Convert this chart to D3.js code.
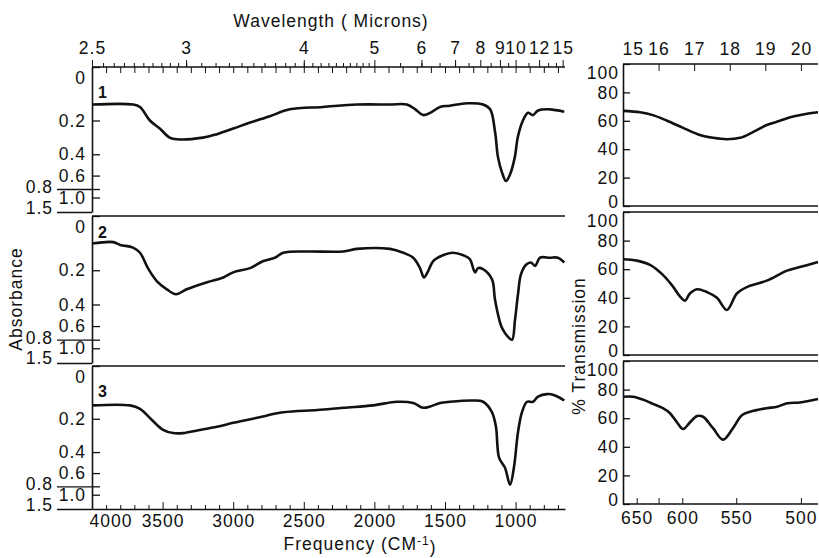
<!DOCTYPE html>
<html>
<head>
<meta charset="utf-8">
<script src="https://cdn.jsdelivr.net/npm/d3@7"></script>
<style>
  body { margin: 0; background: #fff; }
  svg { color: #111; }
  text { font-family: "Liberation Sans", Arial, sans-serif; font-size: 17.5px; letter-spacing: 1px; fill: #111; }
</style>
</head>
<body>
<svg id="chart" width="819" height="558"></svg>
<script>
// ---- data: left spectra (frequency cm-1 vs absorbance) ----
const wn1 = [4000, 3710, 3660, 3590, 3520, 3450, 3400, 3215, 3115, 3000, 2880, 2740, 2600, 2365, 2125, 1890, 1770, 1710, 1655, 1605,
             1535, 1465, 1345, 1230, 1180, 1145, 1125, 1095, 1068, 1040, 1005, 985, 948, 912, 877, 841, 756, 655];
const abs1 = [0.13, 0.13, 0.14, 0.20, 0.24, 0.29, 0.30, 0.29, 0.27, 0.24, 0.21, 0.18, 0.15, 0.14, 0.13, 0.13, 0.13, 0.15, 0.175, 0.165,
              0.14, 0.135, 0.125, 0.13, 0.15, 0.26, 0.42, 0.57, 0.67, 0.59, 0.42, 0.29, 0.20, 0.165, 0.175, 0.155, 0.15, 0.16];

const wn2 = [4000, 3850, 3800, 3710, 3660, 3600, 3540, 3470, 3405, 3330, 3185, 3070, 3000, 2880, 2790, 2705, 2645, 2475, 2220, 2125,
             1890, 1795, 1725, 1677, 1649, 1620, 1585, 1515, 1445, 1370, 1325, 1287, 1266, 1231, 1167, 1146, 1110, 1090, 1054, 1025,
             1004, 983, 962, 926, 891, 862, 827, 756, 700, 655];
const abs2 = [0.09, 0.085, 0.095, 0.105, 0.125, 0.195, 0.255, 0.30, 0.33, 0.30, 0.26, 0.235, 0.21, 0.19, 0.16, 0.145, 0.125, 0.12, 0.12, 0.11,
              0.11, 0.125, 0.145, 0.19, 0.235, 0.205, 0.16, 0.135, 0.125, 0.135, 0.15, 0.21, 0.19, 0.195, 0.245, 0.365, 0.56, 0.645, 0.75, 0.80,
              0.53, 0.33, 0.22, 0.175, 0.165, 0.18, 0.145, 0.145, 0.145, 0.165];

const wn3 = [4000, 3730, 3660, 3570, 3500, 3425, 3355, 3255, 3115, 3000, 2830, 2645, 2405, 2220, 2010, 1840, 1725, 1655, 1605, 1535,
             1465, 1300, 1230, 1167, 1139, 1117, 1075, 1039, 1011, 983, 955, 919, 877, 841, 778, 721, 655];
const abs3 = [0.14, 0.14, 0.155, 0.21, 0.255, 0.275, 0.275, 0.26, 0.24, 0.22, 0.195, 0.17, 0.16, 0.15, 0.14, 0.125, 0.13, 0.15, 0.145, 0.13,
              0.125, 0.12, 0.125, 0.17, 0.24, 0.445, 0.54, 0.77, 0.53, 0.27, 0.17, 0.125, 0.125, 0.105, 0.095, 0.10, 0.12];

// ---- data: right spectra (wavelength microns vs % transmission) ----
const mic1 = [15.0, 15.48, 15.84, 16.24, 16.69, 17.16, 17.53, 17.92, 18.29, 18.65, 19.04, 19.41, 19.78, 20.17, 20.48];
const tr1 = [67, 66, 64, 60, 55, 50, 48, 47, 48, 52, 57, 60, 63, 65, 66];

const mic2 = [15.0, 15.39, 15.76, 16.12, 16.40, 16.60, 16.74, 16.88, 17.08, 17.36, 17.64, 17.92, 18.20, 18.48, 19.04, 19.61, 19.97, 20.48];
const tr2 = [67, 66, 63, 56, 48, 41, 38, 43, 46, 44, 40, 31.5, 43, 47.5, 52, 59, 61.5, 65];

const mic3 = [15.0, 15.28, 15.56, 15.84, 16.12, 16.32, 16.52, 16.69, 16.88, 17.08, 17.25, 17.53, 17.81, 18.09, 18.34, 18.57, 19.04, 19.33, 19.61, 19.97, 20.48];
const tr3 = [75, 75, 73, 70, 67, 63.5, 57, 52.5, 57, 61.5, 61, 53, 45, 53, 62, 64.5, 67, 68, 70.5, 71, 73.5];

// ---- tick labels ----
const topMicronLabels = [2.5, 3, 4, 5, 6, 7, 8, 9, 10, 12, 15];
const bottomFreqLabels = [4000, 3500, 3000, 2500, 2000, 1500, 1000];
const absTicks = [0, 0.2, 0.4, 0.6, 0.8, 1.0, 1.5];
const absTickLabels = ["0", "0.2", "0.4", "0.6", "0.8", "1.0", "1.5"];
const rightMicronLabels = [15, 16, 17, 18, 19, 20];
const rightFreqTicks = [650, 625, 600, 550, 500];
const rightFreqLabels = [650, 600, 550, 500];
const transTicks = [0, 20, 40, 60, 80, 100];

const svg = d3.select("#chart");

const xL = d3.scaleLinear().domain([4000, 650]).range([92, 565]);
const xR = d3.scaleLinear().domain([15, 20.48]).range([623, 818]);

const leftPanels = [
  { top: 67, bottom: 212, wn: wn1, a: abs1, label: "1", ly: 92 },
  { top: 216, bottom: 363, wn: wn2, a: abs2, label: "2", ly: 232 },
  { top: 366, bottom: 509, wn: wn3, a: abs3, label: "3", ly: 391 }
];
const rightPanels = [
  { top: 64, bottom: 206, mic: mic1, t: tr1 },
  { top: 212, bottom: 355, mic: mic2, t: tr2 },
  { top: 361, bottom: 504, mic: mic3, t: tr3 }
];

const toT = a => 100 * Math.pow(10, -a);
const plain = d => String(d);

leftPanels.forEach((p, i) => {
  const y = d3.scaleLinear().domain([0, 100]).range([p.bottom, p.top]);
  const g = svg.append("g");

  // top border
  g.append("line").attr("x1", 92).attr("x2", 565).attr("y1", p.top).attr("y2", p.top)
    .attr("stroke", "#111").attr("stroke-width", 1.6);

  const yAxis = d3.axisLeft(y)
    .tickValues(absTicks.map(toT))
    .tickFormat((d, j) => absTickLabels[j])
    .tickSize(-8).tickSizeOuter(0).tickPadding(6);
  const ga = g.append("g").attr("transform", "translate(92,0)").call(yAxis);
  ga.select(".domain").attr("stroke-width", 1.6);
  ga.selectAll(".tick line").attr("stroke-width", 1.3);
  ga.selectAll(".tick").each(function(d, j) {
    const t = d3.select(this);
    const lab = absTickLabels[j];
    if (lab === "0") t.select("text").attr("dy", "0.95em");
    if (lab === "0.8") {
      t.select("text").attr("x", -39).attr("dy", "0.2em");
      t.append("line").attr("x1", -35).attr("x2", 0).attr("stroke", "currentColor").attr("stroke-width", 1.3);
    }
    if (lab === "1.5") {
      t.select("line").remove();
      t.select("text").attr("x", -39);
      t.append("line").attr("x1", -35).attr("x2", 0)
        .attr("y1", p.bottom - y(d)).attr("y2", p.bottom - y(d))
        .attr("stroke", "currentColor").attr("stroke-width", 1.3);
    }
  });

  // panel number
  g.append("text").attr("x", 98).attr("y", p.ly).attr("dy", "0.35em")
    .style("font-weight", "bold").style("font-size", "16px").text(p.label);

  // spectrum
  const line = d3.line()
    .x(d => xL(d[0]))
    .y(d => y(toT(d[1])))
    .curve(d3.curveCatmullRom.alpha(0.5));
  g.append("path").datum(d3.zip(p.wn, p.a)).attr("d", line)
    .attr("fill", "none").attr("stroke", "#111").attr("stroke-width", 2.6)
    .attr("stroke-linejoin", "round");
});

// top wavelength axis (left block)
const topY = leftPanels[0].top;
const topAxis = d3.axisTop(xL)
  .tickValues(topMicronLabels.map(m => 10000 / m))
  .tickFormat((d, j) => topMicronLabels[j])
  .tickSize(7).tickSizeOuter(0).tickPadding(6);
const gTop = svg.append("g").attr("transform", `translate(0,${topY})`).call(topAxis);
gTop.select(".domain").remove();

const micMinor = d3.range(2.55, 3, 0.05).concat(d3.range(3.1, 5, 0.1), d3.range(5.5, 8, 0.5), [8.5, 9.5, 11, 13, 14]);
svg.append("g").attr("transform", `translate(0,${topY})`)
  .call(d3.axisTop(xL).tickValues(micMinor.map(m => 10000 / m)).tickFormat("").tickSize(4).tickSizeOuter(0))
  .select(".domain").remove();
svg.append("g").attr("transform", `translate(0,${topY})`)
  .call(d3.axisBottom(xL).tickValues(d3.range(3900, 650, -100)).tickFormat("").tickSize(6).tickSizeOuter(0))
  .select(".domain").remove();

svg.append("text").attr("x", 331).attr("y", 21).attr("dy", "0.35em")
  .attr("text-anchor", "middle").text("Wavelength ( Microns)");

// bottom frequency axis (left block)
const botY = leftPanels[2].bottom;
const gBot = svg.append("g").attr("transform", `translate(0,${botY})`)
  .call(d3.axisBottom(xL).tickValues(bottomFreqLabels).tickFormat(plain)
    .tickSize(-7).tickSizeOuter(0).tickPadding(6));
gBot.select(".domain").attr("stroke-width", 1.6);
gBot.selectAll(".tick text").filter(d => d === 4000).attr("text-anchor", "start").attr("x", -3);
svg.append("g").attr("transform", `translate(0,${botY})`)
  .call(d3.axisBottom(xL).tickValues(d3.range(3900, 650, -100).filter(v => v % 500)).tickFormat("").tickSize(-4).tickSizeOuter(0))
  .select(".domain").remove();

const freqTitle = svg.append("text").attr("x", 360).attr("y", 544).attr("dy", "0.35em")
  .attr("text-anchor", "middle");
freqTitle.append("tspan").text("Frequency (CM");
freqTitle.append("tspan").attr("dy", "-0.45em").style("font-size", "12px").text("-1");
freqTitle.append("tspan").attr("dy", "0.45em").text(")");

svg.append("text").attr("transform", "translate(16,299) rotate(-90)")
  .attr("text-anchor", "middle").attr("dy", "0.35em").text("Absorbance");

// right panels
rightPanels.forEach((p, i) => {
  const y = d3.scaleLinear().domain([0, 100]).range([p.bottom, p.top]);
  const g = svg.append("g");

  g.append("line").attr("x1", 623).attr("x2", 818).attr("y1", p.top).attr("y2", p.top)
    .attr("stroke", "#111").attr("stroke-width", 1.6);
  g.append("line").attr("x1", 623).attr("x2", 818).attr("y1", p.bottom).attr("y2", p.bottom)
    .attr("stroke", "#111").attr("stroke-width", 1.6);

  const ga = g.append("g").attr("transform", "translate(623,0)")
    .call(d3.axisLeft(y).tickValues(transTicks).tickFormat(plain).tickSize(-7).tickSizeOuter(0).tickPadding(4));
  ga.select(".domain").attr("stroke-width", 1.6);
  ga.selectAll(".tick line").attr("stroke-width", 1.3);
  ga.selectAll(".tick text").filter(d => d === 100).attr("dy", "0.8em");
  ga.selectAll(".tick text").filter(d => d === 0).attr("dy", "0.1em");

  const line = d3.line()
    .x(d => xR(d[0]))
    .y(d => y(d[1]))
    .curve(d3.curveCatmullRom.alpha(0.5));
  g.append("path").datum(d3.zip(p.mic, p.t)).attr("d", line)
    .attr("fill", "none").attr("stroke", "#111").attr("stroke-width", 2.6)
    .attr("stroke-linejoin", "round");
});

// right top wavelength axis
const rTop = rightPanels[0].top;
const gRTop = svg.append("g").attr("transform", `translate(0,${rTop})`)
  .call(d3.axisTop(xR).tickValues(rightMicronLabels).tickFormat(plain)
    .tickSize(-7).tickSizeOuter(0).tickPadding(9));
gRTop.select(".domain").remove();
gRTop.selectAll(".tick text").filter(d => d === 15).attr("text-anchor", "start").attr("x", -1);

// right bottom frequency axis
const rBot = rightPanels[2].bottom;
const gRBot = svg.append("g").attr("transform", `translate(0,${rBot})`)
  .call(d3.axisBottom(xR).tickValues(rightFreqTicks.map(f => 10000 / f))
    .tickFormat((d, j) => rightFreqLabels.includes(rightFreqTicks[j]) ? String(rightFreqTicks[j]) : "")
    .tickSize(-6).tickSizeOuter(0).tickPadding(8));
gRBot.select(".domain").remove();

svg.append("text").attr("transform", "translate(579,346) rotate(-90)")
  .attr("text-anchor", "middle").attr("dy", "0.35em").text("% Transmission");
</script>
</body>
</html>
